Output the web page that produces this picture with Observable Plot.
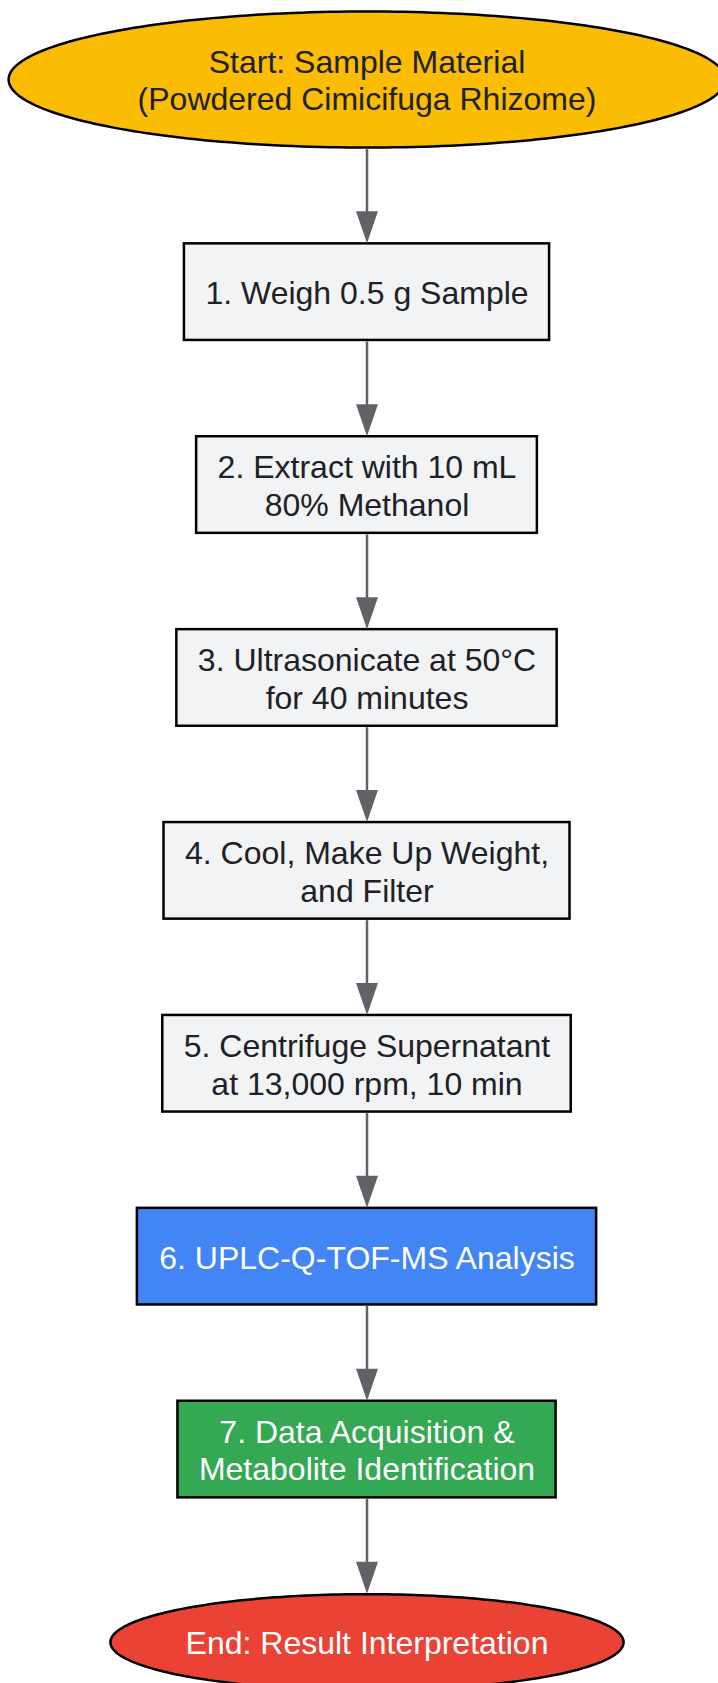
<!DOCTYPE html>
<html><head><meta charset="utf-8">
<script src="https://cdn.jsdelivr.net/npm/d3@7"></script>
<script src="https://cdn.jsdelivr.net/npm/@observablehq/plot@0.6"></script>
<style>html,body{margin:0;padding:0;background:#fff;overflow:hidden;} #chart svg{display:block}</style>
</head><body><div id="chart"></div>
<script>
// ---- data ----
const labels = [
  "Start: Sample Material\n(Powdered Cimicifuga Rhizome)",
  "1. Weigh 0.5 g Sample",
  "2. Extract with 10 mL\n80% Methanol",
  "3. Ultrasonicate at 50°C\nfor 40 minutes",
  "4. Cool, Make Up Weight,\nand Filter",
  "5. Centrifuge Supernatant\nat 13,000 rpm, 10 min",
  "6. UPLC-Q-TOF-MS Analysis",
  "7. Data Acquisition &\nMetabolite Identification",
  "End: Result Interpretation"
];
const kinds = ["start","step","step","step","step","step","analysis","result","end"];
const edgeSources = [0,1,2,3,4,5,6,7];
const edgeTargets = [1,2,3,4,5,6,7,8];

// ---- style ----
const fillByKind = {start:"#FBBC04", step:"#F1F3F4", analysis:"#4285F4", result:"#34A853", end:"#EA4335"};
const textByKind = {start:"#202124", step:"#202124", analysis:"#FFFFFF", result:"#FFFFFF", end:"#FFFFFF"};
const ellipseKinds = new Set(["start","end"]);
const ellipsePad = {start:[24,10.5], end:[0,15.2]};
const W = 718, H = 1683;
const FS = 32, LH = 37.6;
const FONT = '"Liberation Sans", Arial, Helvetica, sans-serif';
const CX = 366.5, TOP = 11, GAP = 96.3, BOX_H = 96.6, BOX_PAD = 21;
const HEAD_L = 32, HEAD_W = 22;
const EDGE = "#5F6368";

// ---- layout ----
const ctx = document.createElement("canvas").getContext("2d");
ctx.font = `${FS}px ${FONT}`;
let cursor = TOP;
const nodes = labels.map((label, i) => {
  const kind = kinds[i];
  const lines = label.split("\n");
  const tw = Math.max(...lines.map(l => ctx.measureText(l).width));
  let rx, ry;
  if (ellipseKinds.has(kind)) {
    const [px, py] = ellipsePad[kind];
    rx = (tw / 2 + px) * Math.SQRT2;
    ry = (lines.length * LH / 2 + py) * Math.SQRT2;
  } else {
    rx = tw / 2 + BOX_PAD;
    ry = BOX_H / 2;
  }
  const top = cursor;
  const cy = top + ry;
  cursor = top + 2 * ry + GAP;
  return {label, kind, cx: CX, cy, rx, ry, top, bottom: top + 2 * ry,
          fill: fillByKind[kind], color: textByKind[kind], ellipse: ellipseKinds.has(kind)};
});
const boxes = nodes.filter(d => !d.ellipse);
const ellipses = nodes.filter(d => d.ellipse);
const edges = edgeSources.map((s, i) => ({src: nodes[s], tgt: nodes[edgeTargets[i]]}));

const ellipseOutline = d => d3.range(240).map(k => {
  const t = k / 240 * 2 * Math.PI;
  return {x: d.cx + d.rx * Math.cos(t), y: d.cy + d.ry * Math.sin(t)};
});

const headSymbol = {
  draw(context) {
    context.moveTo(0, 0);
    context.lineTo(-HEAD_W / 2, -HEAD_L);
    context.lineTo(HEAD_W / 2, -HEAD_L);
    context.closePath();
  }
};

const chart = Plot.plot({
  width: W, height: H,
  margin: 0, marginTop: 0, marginRight: 0, marginBottom: 0, marginLeft: 0,
  x: {domain: [0, W], range: [0, W], axis: null},
  y: {domain: [0, H], range: [0, H], axis: null},
  color: {type: "identity"},
  style: {background: "white", overflow: "hidden"},
  marks: [
    ...ellipses.map(d => Plot.line(ellipseOutline(d), {
      x: "x", y: "y", curve: "linear-closed", fill: d.fill, stroke: "#000", strokeWidth: 2.5
    })),
    Plot.rect(boxes, {x1: d => d.cx - d.rx, x2: d => d.cx + d.rx, y1: "top", y2: "bottom",
      fill: "fill", stroke: "#000", strokeWidth: 2.5}),
    Plot.link(edges, {x1: d => d.src.cx, y1: d => d.src.bottom + 1, x2: d => d.tgt.cx, y2: d => d.tgt.top - HEAD_L + 2,
      stroke: EDGE, strokeWidth: 2.5}),
    Plot.dot(edges, {x: d => d.tgt.cx, y: d => d.tgt.top - 0.5, symbol: headSymbol, fill: EDGE, stroke: "none", r: 10}),
    Plot.text(nodes, {x: "cx", y: "cy", text: "label", fill: "color", fontSize: FS,
      lineHeight: LH / FS, fontFamily: FONT, textAnchor: "middle"})
  ]
});
document.getElementById("chart").appendChild(chart);
</script>
</body></html>
